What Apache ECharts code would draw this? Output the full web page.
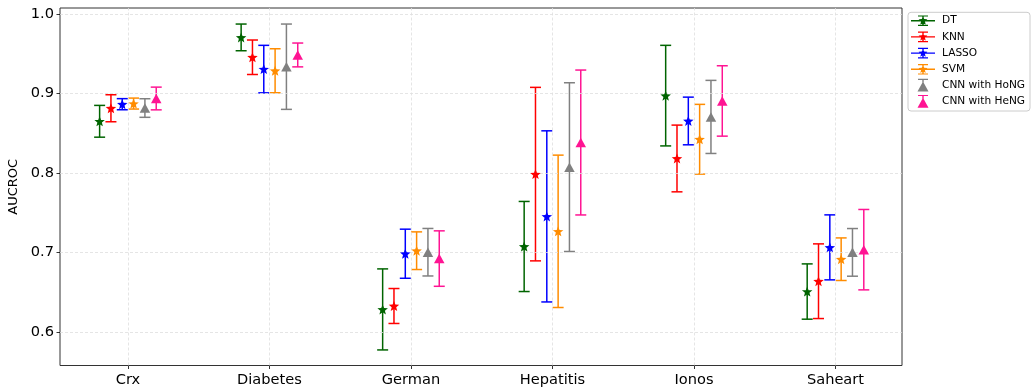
<!DOCTYPE html>
<html>
<head>
<meta charset="utf-8">
<script src="https://cdn.jsdelivr.net/npm/echarts@6/dist/echarts.min.js"></script>
<style>
html,body{margin:0;padding:0;background:#fff;}
#chart{width:1031px;height:391px;}
</style>
</head>
<body>
<div id="chart"></div>
<script>
// ---- data ----
const categories = ['Crx', 'Diabetes', 'German', 'Hepatitis', 'Ionos', 'Saheart'];
const models = ['DT', 'KNN', 'LASSO', 'SVM', 'CNN with HoNG', 'CNN with HeNG'];
const yTicks = [0.6, 0.7, 0.8, 0.9, 1.0];

const meanDT    = [0.8650, 0.9706, 0.6282, 0.7074, 0.8973, 0.6507];
const meanKNN   = [0.8814, 0.9456, 0.6325, 0.7985, 0.8182, 0.6637];
const meanLASSO = [0.8865, 0.9307, 0.6983, 0.7453, 0.8654, 0.7063];
const meanSVM   = [0.8873, 0.9286, 0.7021, 0.7265, 0.8424, 0.6914];
const meanHoNG  = [0.8817, 0.9337, 0.7002, 0.8073, 0.8705, 0.7000];
const meanHeNG  = [0.8937, 0.9485, 0.6922, 0.8383, 0.8906, 0.7034];

const errDT    = [0.0200, 0.0168, 0.0510, 0.0567, 0.0633, 0.0348];
const errKNN   = [0.0170, 0.0217, 0.0220, 0.1092, 0.0420, 0.0470];
const errLASSO = [0.0070, 0.0299, 0.0309, 0.1077, 0.0300, 0.0409];
const errSVM   = [0.0069, 0.0277, 0.0237, 0.0959, 0.0439, 0.0268];
const errHoNG  = [0.0117, 0.0537, 0.0299, 0.1062, 0.0460, 0.0300];
const errHeNG  = [0.0143, 0.0150, 0.0349, 0.0912, 0.0443, 0.0506];

// ---- styling ----
const means = [meanDT, meanKNN, meanLASSO, meanSVM, meanHoNG, meanHeNG];
const errs = [errDT, errKNN, errLASSO, errSVM, errHoNG, errHeNG];
const colors = ['#006400', '#ff0000', '#0000ff', '#ff8c00', '#808080', '#ff1493'];
const offsets = [-0.2, -0.12, -0.04, 0.04, 0.12, 0.2];
const FONT = 'DejaVu Sans';

function starPts(cx, cy, R, r) {
  const pts = [];
  for (let k = 0; k < 10; k++) {
    const a = -Math.PI / 2 + k * Math.PI / 5;
    const rad = k % 2 === 0 ? R : r;
    pts.push([cx + rad * Math.cos(a), cy + rad * Math.sin(a)]);
  }
  return pts;
}
function poly(pts) {
  return 'M' + pts.map(p => p[0].toFixed(3) + ' ' + p[1].toFixed(3)).join(' L') + ' Z ';
}
function rect(x1, y1, x2, y2) {
  return poly([[x1, y1], [x2, y1], [x2, y2], [x1, y2]]);
}
const starSymbol = 'path://' + poly(starPts(0, 0, 10, 4.3));
const legendStar = 'path://M0 0 M24 16 ' + rect(0, 7.3, 24, 8.7) + rect(11.3, 3.3, 12.7, 12.7) +
  rect(7, 2.7, 17, 3.9) + rect(7, 12.1, 17, 13.3) + poly(starPts(12, 8, 4.6, 2.0));
const legendTri = 'path://M0 0 M24 16 ' + rect(7, 1.2, 17, 2.4) + rect(11.3, 1.5, 12.7, 9) +
  poly([[12, 4], [17.5, 14], [6.5, 14]]);

const series = [];
// grid lines
series.push({
  type: 'line', name: '_grid', data: [[0, 0.6]], symbol: 'none', silent: true,
  lineStyle: { opacity: 0 }, z: 1,
  markLine: {
    silent: true, symbol: ['none', 'none'], label: { show: false }, animation: false,
    lineStyle: { color: '#dedede', type: [3, 2], width: 0.8 },
    emphasis: { disabled: true },
    data: yTicks.map(v => ({ yAxis: v })).concat(categories.map((c, i) => ({ xAxis: i })))
  }
});
// error bars
models.forEach((m, s) => {
  const col = colors[s];
  series.push({
    type: 'custom', name: '_err' + s, z: 3, silent: true,
    data: categories.map((c, i) => [i + offsets[s], means[s][i], errs[s][i]]),
    encode: { x: 0, y: 1 },
    renderItem: (params, api) => {
      const x = api.value(0), mu = api.value(1), e = api.value(2);
      const t = api.coord([x, mu + e]);
      const b = api.coord([x, mu - e]);
      const cw = 5.5;
      const st = { stroke: col, lineWidth: 1.5 };
      return {
        type: 'group', children: [
          { type: 'line', shape: { x1: t[0], y1: t[1], x2: b[0], y2: b[1] }, style: st },
          { type: 'line', shape: { x1: t[0] - cw, y1: t[1], x2: t[0] + cw, y2: t[1] }, style: st },
          { type: 'line', shape: { x1: b[0] - cw, y1: b[1], x2: b[0] + cw, y2: b[1] }, style: st }
        ]
      };
    }
  });
});
// markers
models.forEach((m, s) => {
  const isTri = s >= 4;
  series.push({
    type: 'scatter', name: m, z: 5,
    symbol: isTri ? 'triangle' : starSymbol,
    symbolSize: isTri ? [10.5, 9.5] : [10.5, 10],
    itemStyle: { color: colors[s], opacity: 1 },
    data: categories.map((c, i) => [i + offsets[s], means[s][i]])
  });
});

const chart = echarts.init(document.getElementById('chart'), null, { renderer: 'canvas' });
chart.setOption({
  animation: false,
  backgroundColor: '#ffffff',
  grid: {
    left: 60, right: 129, top: 8, bottom: 25.5,
    show: true, borderColor: '#333333', borderWidth: 1, backgroundColor: 'transparent',
    containLabel: false, outerBoundsMode: 'none'
  },
  xAxis: {
    type: 'value', min: -0.48, max: 5.47,
    axisLine: { show: false, onZero: false },
    splitLine: { show: false },
    axisTick: { show: true, customValues: categories.map((c, i) => i), length: 3.5, lineStyle: { color: '#000', width: 0.8 } },
    axisLabel: {
      customValues: categories.map((c, i) => i), margin: 7,
      formatter: v => categories[Math.round(v)] || '',
      fontFamily: FONT, fontSize: 14.6, color: '#000'
    }
  },
  yAxis: {
    type: 'value', min: 0.5576, max: 1.0076,
    name: 'AUCROC', nameLocation: 'middle', nameGap: 37, nameRotate: 90,
    nameTextStyle: { fontFamily: FONT, fontSize: 13, color: '#000' },
    axisLine: { show: false, onZero: false },
    splitLine: { show: false },
    axisTick: { show: true, customValues: yTicks, length: 3.5, lineStyle: { color: '#000', width: 0.8 } },
    axisLabel: {
      customValues: yTicks, margin: 6,
      formatter: v => Number(v).toFixed(1),
      fontFamily: FONT, fontSize: 14.6, color: '#000'
    }
  },
  legend: {
    orient: 'vertical', left: 911, top: 12.7, padding: 0,
    itemWidth: 24, itemHeight: 16, itemGap: 0.2,
    selectedMode: false, z: 10,
    textStyle: { fontFamily: FONT, fontSize: 10.6, color: '#000', padding: [0, 0, 0, 2] },
    data: models.map((m, s) => ({ name: m, icon: s >= 4 ? legendTri : legendStar }))
  },
  graphic: [{
    type: 'rect', z: 1, silent: true,
    shape: { x: 908, y: 12.3, width: 122, height: 98.7, r: 3 },
    style: { fill: '#ffffff', stroke: '#cccccc', lineWidth: 1 }
  }],
  series: series
});
</script>
</body>
</html>
